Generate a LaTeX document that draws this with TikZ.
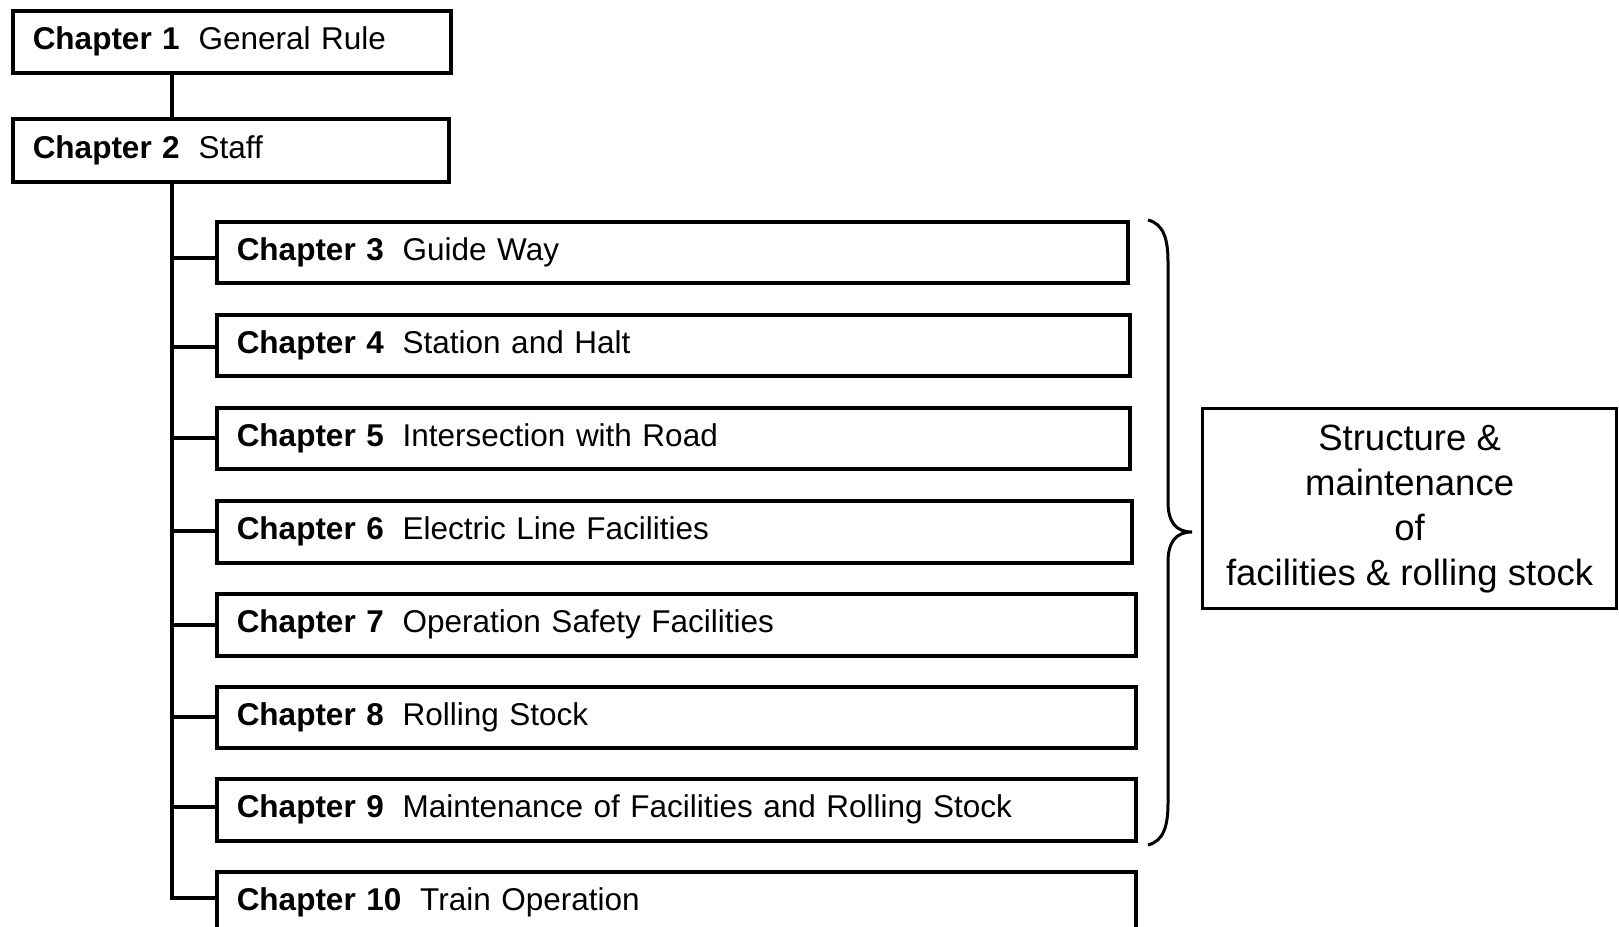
\documentclass[tikz,border=0pt]{standalone}
\usepackage{fontspec}
\setmainfont{Liberation Sans}
\begin{document}
\begin{tikzpicture}[x=1pt,y=-1pt,
  chap/.style={draw=black, line width=3.5pt, anchor=north west, inner xsep=20pt,
    align=left, font=\fontsize{31.5}{38}\selectfont, minimum height=#1},
  chap/.default=62pt,
  link/.style={draw=black, line width=3.5pt},
  note/.style={draw=black, line width=3.2pt, align=center, anchor=north west,
    font=\fontsize{36.5}{45}\selectfont, inner sep=0pt}]
\useasboundingbox (0,0) rectangle (1619,926);

% chapter boxes
\node[chap, text width=398pt] (b1) at (11,9) {\textbf{Chapter 1}\hspace{0.6em}General Rule};
\node[chap, text width=396pt, minimum height=63pt] (b2) at (11,117) {\textbf{Chapter 2}\hspace{0.6em}Staff};
\node[chap, text width=871pt, minimum height=61pt] (b3) at (215,220) {\textbf{Chapter 3}\hspace{0.6em}Guide Way};
\node[chap, text width=873pt, minimum height=61pt] (b4) at (215,313) {\textbf{Chapter 4}\hspace{0.6em}Station and Halt};
\node[chap, text width=873pt, minimum height=61pt] (b5) at (215,406) {\textbf{Chapter 5}\hspace{0.6em}Intersection with Road};
\node[chap, text width=875pt] (b6) at (215,499) {\textbf{Chapter 6}\hspace{0.6em}Electric Line Facilities};
\node[chap, text width=879pt] (b7) at (215,592) {\textbf{Chapter 7}\hspace{0.6em}Operation Safety Facilities};
\node[chap, text width=879pt, minimum height=61pt] (b8) at (215,685) {\textbf{Chapter 8}\hspace{0.6em}Rolling Stock};
\node[chap, text width=879pt] (b9) at (215,777) {\textbf{Chapter 9}\hspace{0.6em}Maintenance of Facilities and Rolling Stock};
\node[chap, text width=879pt] (b10) at (215,870) {\textbf{Chapter 10}\hspace{0.6em}Train Operation};

% junctions on the trunk line
\coordinate (j3) at (172,258);
\coordinate (j4) at (172,347);
\coordinate (j5) at (172,438);
\coordinate (j6) at (172,531);
\coordinate (j7) at (172,625);
\coordinate (j8) at (172,717);
\coordinate (j9) at (172,807);
\coordinate (j10) at (172,898);

% trunk and branches
\draw[link] (b1.south -| j3) -- (b2.north -| j3);
\draw[link] (b2.south -| j3) -- (j10) -- (j10 -| b10.west);
\foreach \k in {3,...,9} {
  \draw[link] (j\k) -- (j\k -| b\k.west);
}

% summary box with brace
\node[note, minimum width=414pt, minimum height=200pt] (s) at (1201,407)
  {Structure \&\\maintenance\\of\\facilities \& rolling stock};
\coordinate (tip) at (1192,532);
\draw[line width=3pt] (1148,220) .. controls (1164,224) and (1168,240) .. (1168,262)
  -- (1168,502) .. controls (1168,522) and (1176,532) .. (tip)
  .. controls (1176,532) and (1168,542) .. (1168,562)
  -- (1168,803) .. controls (1168,825) and (1164,841) .. (1148,845);
\end{tikzpicture}
\end{document}
